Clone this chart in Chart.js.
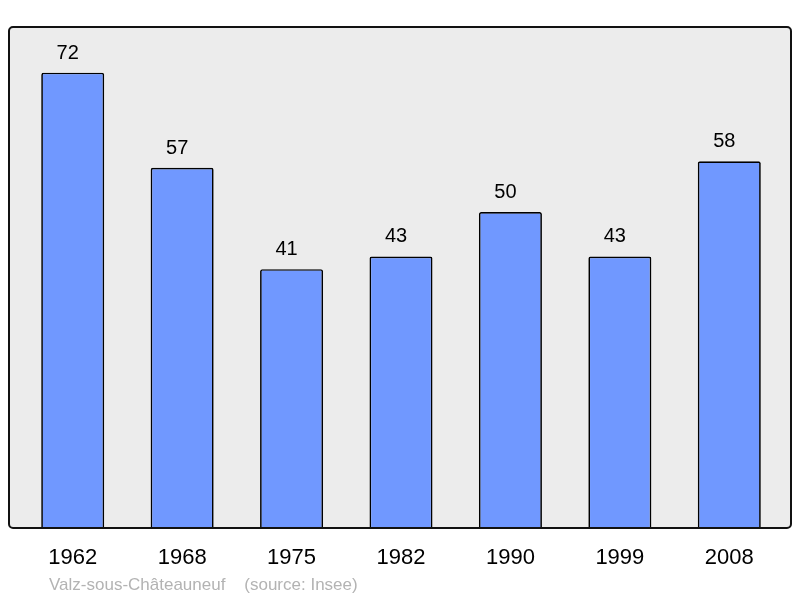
<!DOCTYPE html>
<html>
<head>
<meta charset="utf-8">
<script src="https://cdn.jsdelivr.net/npm/chart.js@4/dist/chart.umd.min.js"></script>
<style>
html,body{margin:0;padding:0;background:#fff;}
#wrap{width:800px;height:598px;}
</style>
</head>
<body>
<div id="wrap"><canvas id="c" width="800" height="598"></canvas></div>
<script>
const years = ["1962","1968","1975","1982","1990","1999","2008"];
const population = [72,57,41,43,50,43,58];
const footerText = "Valz-sous-Châteauneuf    (source: Insee)";

const FONT = "'Liberation Sans', Arial, sans-serif";

const framePlugin = {
  id: 'frame',
  beforeDatasetsDraw(chart){
    const ctx = chart.ctx;
    ctx.save();
    ctx.beginPath();
    ctx.roundRect(9, 27, 782, 501, 4);
    ctx.fillStyle = '#ececec';
    ctx.fill();
    ctx.restore();
  },
  afterDatasetsDraw(chart){
    const ctx = chart.ctx;
    ctx.save();
    ctx.beginPath();
    ctx.roundRect(9, 27, 782, 501, 4);
    ctx.lineWidth = 2;
    ctx.strokeStyle = '#111';
    ctx.stroke();
    // value labels
    const meta = chart.getDatasetMeta(0);
    ctx.fillStyle = '#000';
    ctx.font = '20px ' + FONT;
    ctx.textAlign = 'center';
    ctx.textBaseline = 'alphabetic';
    meta.data.forEach((bar, i) => {
      ctx.fillText(String(chart.data.datasets[0].data[i]), bar.x - 5, bar.y - 14);
    });
    // footer
    ctx.fillStyle = '#b3b3b3';
    ctx.font = '17px ' + FONT;
    ctx.textAlign = 'left';
    ctx.fillText(footerText, 49, 590);
    ctx.restore();
  }
};

new Chart(document.getElementById('c'), {
  type: 'bar',
  data: {
    labels: years,
    datasets: [{
      data: population,
      backgroundColor: '#7098ff',
      borderColor: '#000',
      borderWidth: 1.7,
      borderRadius: 2,
      borderSkipped: false,
      categoryPercentage: 1,
      barPercentage: 0.576
    }]
  },
  options: {
    responsive: false,
    animation: false,
    devicePixelRatio: 1,
    layout: { padding: { left: 18, right: 16, top: 27, bottom: 10.6 } },
    plugins: { legend: { display: false }, tooltip: { enabled: false } },
    scales: {
      x: {
        grid: { display: false, drawTicks: false },
        border: { display: false },
        ticks: { color: '#000', font: { family: FONT, size: 22 }, padding: 16, maxRotation: 0 }
      },
      y: { display: false, min: 0, max: 79.2 }
    }
  },
  plugins: [framePlugin]
});
</script>
</body>
</html>
